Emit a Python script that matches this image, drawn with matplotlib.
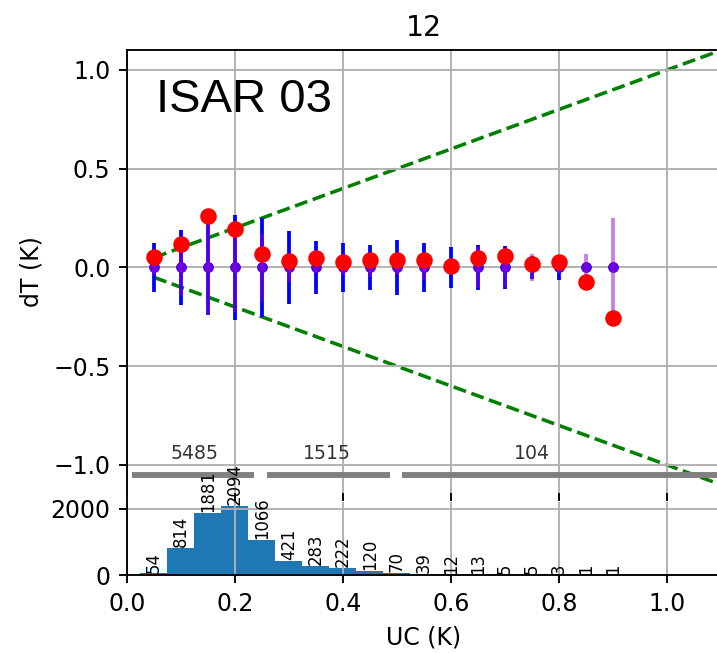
import numpy as np
import matplotlib.pyplot as plt

# uncertainty bins (K)
uc = [0.05, 0.10, 0.15, 0.20, 0.25, 0.30, 0.35, 0.40, 0.45,
      0.50, 0.55, 0.60, 0.65, 0.70, 0.75, 0.80, 0.85, 0.90]
dT_mean = [0.055, 0.12, 0.26, 0.193, 0.067, 0.032, 0.047, 0.03, 0.04,
           0.04, 0.037, 0.008, 0.048, 0.056, 0.018, 0.03, -0.073, -0.255]
err_blue = [0.122, 0.19, 0.24, 0.265, 0.25, 0.185, 0.133, 0.122, 0.113,
            0.138, 0.123, 0.106, 0.115, 0.11, 0.06, 0.065, 0.0, 0.0]
err_violet = [0.04, 0.145, 0.24, 0.225, 0.17, 0.075, 0.03, 0.04, 0.05,
              0.04, 0.065, 0.01, 0.105, 0.1, 0.067, 0.03, 0.07, 0.25]
counts = [54, 814, 1881, 2094, 1066, 421, 283, 222, 120,
          70, 39, 12, 13, 5, 5, 3, 1, 1]

# 1:1 guide lines
guide_x = [0.05, 1.2]

# grouped ranges shown as grey bars
range_start = [0.01, 0.26, 0.51]
range_end = [0.235, 0.487, 1.2]
range_label_x = [0.125, 0.37, 0.75]
range_counts = [5485, 1515, 104]

DPI = 170
fig = plt.figure(figsize=(717 / DPI, 653 / DPI), dpi=DPI)
ax = fig.add_axes([0.1771, 0.245, 0.8285, 0.6784])
axh = fig.add_axes([0.1771, 0.1194, 0.8285, 0.1118])

zeros = np.zeros(len(uc))
ax.errorbar(uc, zeros, yerr=err_blue, fmt='b.', ms=7, lw=1.6, zorder=2)
ax.errorbar(uc, zeros, yerr=err_violet, fmt='.', ms=7, lw=1.6, color='darkviolet',
            alpha=0.5, zorder=3)
ax.plot(uc, dT_mean, 'ro', zorder=4)

gx = np.array(guide_x)
ax.plot(gx, gx, 'g--', zorder=1)
ax.plot(gx, -gx, 'g--', zorder=1)

for x0, x1, lx, n in zip(range_start, range_end, range_label_x, range_counts):
    ax.plot([x0, x1], [-1.05, -1.05], color='gray', lw=2.5, solid_capstyle='butt')
    ax.text(lx, -0.94, str(n), ha='center', va='center', fontsize=8, color='#333333')

ax.text(0.054, 0.787, 'ISAR 03', fontsize=20, family='Liberation Sans')
ax.set_xlim(0, 1.1)
ax.set_ylim(-1.142, 1.101)
ax.set_xticks([0.0, 0.2, 0.4, 0.6, 0.8, 1.0])
ax.set_xticklabels([])
ax.set_yticks([-1.0, -0.5, 0.0, 0.5, 1.0])
ax.spines['bottom'].set_visible(False)
ax.grid(True)
ax.set_ylabel('dT (K)')
ax.set_title('12', fontsize=12)

axh.bar(uc, counts, width=0.05)
for x, c in zip(uc, counts):
    axh.text(x, c + 20, str(c), rotation=90, ha='center', va='bottom', fontsize=7)
axh.set_xlim(0, 1.1)
axh.set_ylim(0, 2200)
axh.set_xticks([0.0, 0.2, 0.4, 0.6, 0.8, 1.0])
axh.set_yticks([0, 2000])
axh.spines['top'].set_visible(False)
axh.grid(True)
axh.set_xlabel('UC (K)')

fig.savefig('out.png', dpi=DPI)
